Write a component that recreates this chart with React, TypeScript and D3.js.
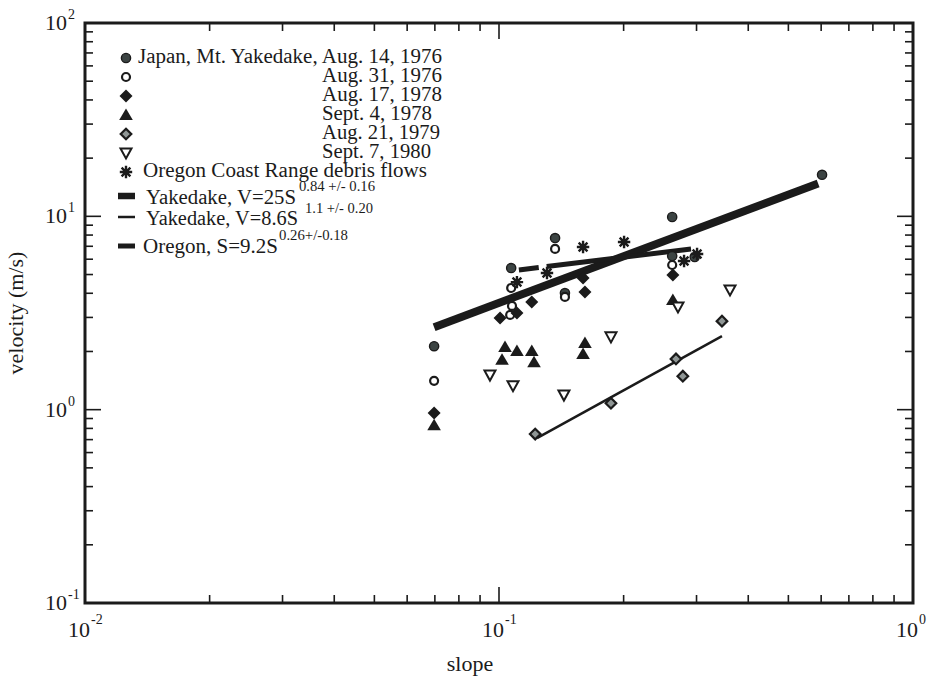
import React from "react";
import * as d3 from "d3";

type P = [number, number];

// slope, velocity (m/s)
const aug14_1976: P[] = [[0.0697, 2.13], [0.107, 5.4], [0.1366, 7.72], [0.1443, 4.01], [0.262, 9.92], [0.262, 6.23], [0.297, 6.16], [0.603, 16.4]];
const aug31_1976: P[] = [[0.0697, 1.41], [0.1366, 6.78], [0.1443, 3.83], [0.1075, 3.44], [0.1064, 3.09], [0.262, 5.6], [0.107, 4.26]];
const aug17_1978: P[] = [[0.0697, 0.96], [0.1006, 2.98], [0.1105, 3.16], [0.12, 3.6], [0.1596, 4.8], [0.1613, 4.06], [0.263, 4.97]];
const sept4_1978: P[] = [[0.0697, 0.83], [0.1034, 2.11], [0.1017, 1.81], [0.1105, 2.01], [0.12, 2.01], [0.1215, 1.76], [0.1613, 2.21], [0.1596, 1.94], [0.263, 3.69]];
const aug21_1979: P[] = [[0.1223, 0.748], [0.1864, 1.08], [0.2676, 1.83], [0.278, 1.49], [0.3456, 2.87]];
const sept7_1980: P[] = [[0.0951, 1.51], [0.1081, 1.33], [0.1435, 1.19], [0.1864, 2.38], [0.2706, 3.4], [0.3614, 4.16]];
const oregonFlows: P[] = [[0.1105, 4.57], [0.1306, 5.09], [0.1596, 6.94], [0.2005, 7.36], [0.2799, 5.87], [0.3009, 6.38]];

const fitYakedake25: P[] = [[0.0697, 2.67], [0.59, 14.8]];
const fitYakedake86: P[] = [[0.1235, 0.713], [0.3456, 2.4]];
const fitOregon: P[] = [[0.1117, 5.28], [0.291, 6.78]];

const pointLegend = [
  "Japan, Mt. Yakedake, Aug. 14, 1976",
  "Aug. 31, 1976",
  "Aug. 17, 1978",
  "Sept. 4, 1978",
  "Aug. 21, 1979",
  "Sept. 7, 1980",
  "Oregon Coast Range debris flows",
];
const lineLegend = [
  ["Yakedake, V=25S", "0.84 +/- 0.16"],
  ["Yakedake, V=8.6S", "1.1 +/- 0.20"],
  ["Oregon, S=9.2S", "0.26+/-0.18"],
];
const xDecades = [-2, -1, 0];
const yDecades = [-1, 0, 1, 2];

const W = 931, H = 677;
const L = 85, R = 913, T = 23, B = 603;
const INK = "#1b1b1b";
const FONT = '"Liberation Serif", "Times New Roman", "DejaVu Serif", serif';

const x = d3.scaleLog().domain([0.01, 1]).range([L, R]);
const y = d3.scaleLog().domain([0.1, 100]).range([B, T]);

type Kind = "fcircle" | "ocircle" | "fdiamond" | "tri" | "gdiamond" | "dtri" | "star";

function Marker({ kind, cx, cy }: { kind: Kind; cx: number; cy: number }) {
  const t = `translate(${cx},${cy})`;
  switch (kind) {
    case "fcircle":
      return <circle cx={cx} cy={cy} r={4.6} fill="#3c4443" stroke={INK} strokeWidth={1.4} />;
    case "ocircle":
      return <circle cx={cx} cy={cy} r={4} fill="#fff" stroke={INK} strokeWidth={2.2} />;
    case "fdiamond":
      return <path transform={t} d="M0,-6.5L6.5,0L0,6.5L-6.5,0Z" fill={INK} />;
    case "tri":
      return <path transform={t} d="M0,-6.5L6.8,5L-6.8,5Z" fill={INK} />;
    case "gdiamond":
      return <path transform={t} d="M0,-5.3L5.3,0L0,5.3L-5.3,0Z" fill="#8f9695" stroke={INK} strokeWidth={2.2} />;
    case "dtri":
      return <path transform={t} d="M-5.5,-4.5L5.5,-4.5L0,5.5Z" fill="#fff" stroke={INK} strokeWidth={2} />;
    case "star": {
      const r = 6.2;
      const segs = [0, 45, 90, 135].map((a) => {
        const rad = (a * Math.PI) / 180;
        return `M${-r * Math.cos(rad)},${-r * Math.sin(rad)}L${r * Math.cos(rad)},${r * Math.sin(rad)}`;
      });
      return <path transform={t} d={segs.join("")} stroke={INK} strokeWidth={2.4} fill="none" />;
    }
  }
  return null;
}

const seriesList: { data: P[]; kind: Kind }[] = [
  { data: aug14_1976, kind: "fcircle" },
  { data: aug31_1976, kind: "ocircle" },
  { data: aug17_1978, kind: "fdiamond" },
  { data: sept4_1978, kind: "tri" },
  { data: aug21_1979, kind: "gdiamond" },
  { data: sept7_1980, kind: "dtri" },
  { data: oregonFlows, kind: "star" },
];

export default function App() {
  const line = d3.line<P>().x((d) => x(d[0])).y((d) => y(d[1]));

  const ticks: any[] = [];
  for (let k = -2; k < 0; k++) {
    for (let m = 1; m <= 9; m++) {
      const v = m * Math.pow(10, k);
      const px = x(v);
      const len = m === 1 ? 16 : 8;
      if (m === 1 && k === -2) continue;
      ticks.push(<line key={`bx${k}${m}`} x1={px} x2={px} y1={B} y2={B - len} stroke={INK} strokeWidth={1.6} />);
      ticks.push(<line key={`tx${k}${m}`} x1={px} x2={px} y1={T} y2={T + len} stroke={INK} strokeWidth={1.6} />);
    }
  }
  for (let k = -1; k < 2; k++) {
    for (let m = 1; m <= 9; m++) {
      const v = m * Math.pow(10, k);
      const py = y(v);
      const len = m === 1 ? 16 : 8;
      if (m === 1 && k === -1) continue;
      ticks.push(<line key={`ly${k}${m}`} y1={py} y2={py} x1={L} x2={L + len} stroke={INK} strokeWidth={1.6} />);
      ticks.push(<line key={`ry${k}${m}`} y1={py} y2={py} x1={R} x2={R - len} stroke={INK} strokeWidth={1.6} />);
    }
  }

  const rowBase = [63, 82, 101, 120, 139, 158, 177];
  const rowX = [138, 322, 322, 322, 322, 322, 143];
  const rowLen = [304, 120, 120, 110, 118, 109, 284];
  const kinds: Kind[] = ["fcircle", "ocircle", "fdiamond", "tri", "gdiamond", "dtri", "star"];
  const lineRows = [
    { base: 204, bar: 196, w: 6.5, sx: 146, len: 150, supX: 299, supLen: 76, supBase: 191 },
    { base: 225, bar: 217, w: 2.5, sx: 146, len: 152, supX: 305, supLen: 68, supBase: 213 },
    { base: 253, bar: 246, w: 5, sx: 143, len: 135, supX: 279, supLen: 69, supBase: 240 },
  ];
  const legFont = 20.5;

  return (
    <svg width={W} height={H} style={{ position: "absolute", left: 0, top: 0, background: "#fff", fontFamily: FONT }}>
      <rect x={0} y={0} width={W} height={H} fill="#fff" />
      {ticks}
      <rect x={L} y={T} width={R - L} height={B - T} fill="none" stroke={INK} strokeWidth={3} />

      {yDecades.map((k) => (
        <g key={`yl${k}`}>
          <text x={67} y={y(Math.pow(10, k)) + 7} fontSize={22} textAnchor="end" fill={INK}>10</text>
          <text x={68} y={y(Math.pow(10, k)) - 4} fontSize={14} fill={INK}>{k}</text>
        </g>
      ))}
      {xDecades.map((k) => (
        <g key={`xl${k}`}>
          <text x={x(Math.pow(10, k)) + 5} y={637} fontSize={22} textAnchor="end" fill={INK}>10</text>
          <text x={x(Math.pow(10, k)) + 6} y={624} fontSize={14} fill={INK}>{k}</text>
        </g>
      ))}

      <text x={470} y={671} fontSize={22} textAnchor="middle" fill={INK}>slope</text>
      <text transform={`translate(23,${(T + B) / 2}) rotate(-90)`} fontSize={22} textAnchor="middle" fill={INK}>velocity (m/s)</text>

      <path d={line(fitYakedake25) ?? ""} stroke={INK} strokeWidth={8} fill="none" />
      <path d={line(fitYakedake86) ?? ""} stroke={INK} strokeWidth={2.5} fill="none" />
      <path d={line(fitOregon) ?? ""} stroke={INK} strokeWidth={5} fill="none" strokeDasharray="20 8 300" />

      {seriesList.map((s, i) =>
        s.data.map((d, j) => <Marker key={`p${i}-${j}`} kind={s.kind} cx={x(d[0])} cy={y(d[1])} />)
      )}

      {pointLegend.map((lab, i) => (
        <g key={`lg${i}`}>
          <Marker kind={kinds[i]} cx={126} cy={rowBase[i] - 5} />
          <text x={rowX[i]} y={rowBase[i]} fontSize={legFont} fill={INK} textLength={rowLen[i]} lengthAdjust="spacingAndGlyphs">{lab}</text>
        </g>
      ))}
      {lineLegend.map((lab, i) => {
        const r = lineRows[i];
        return (
          <g key={`ll${i}`}>
            <line x1={118} x2={135} y1={r.bar} y2={r.bar} stroke={INK} strokeWidth={r.w} />
            <text x={r.sx} y={r.base} fontSize={legFont} fill={INK} textLength={r.len} lengthAdjust="spacingAndGlyphs">{lab[0]}</text>
            <text x={r.supX} y={r.supBase} fontSize={15} fill={INK} textLength={r.supLen} lengthAdjust="spacingAndGlyphs">{lab[1]}</text>
          </g>
        );
      })}
    </svg>
  );
}
